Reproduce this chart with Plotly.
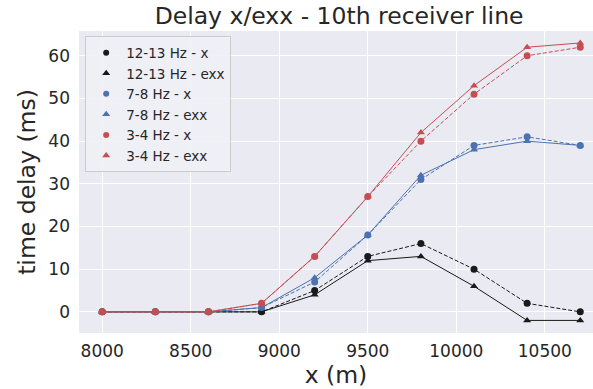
import plotly.graph_objects as go

# Receiver positions along the line (m)
offsets = [8000, 8300, 8600, 8900, 9200, 9500, 9800, 10100, 10400, 10700]

# Time delays (ms) for each frequency band and component
delay_12_13_x = [0, 0, 0, 0, 5, 13, 16, 10, 2, 0]
delay_12_13_exx = [0, 0, 0, 0, 4, 12, 13, 6, -2, -2]
delay_7_8_x = [0, 0, 0, 1, 7, 18, 31, 39, 41, 39]
delay_7_8_exx = [0, 0, 0, 1, 8, 18, 32, 38, 40, 39]
delay_3_4_x = [0, 0, 0, 2, 13, 27, 40, 51, 60, 62]
delay_3_4_exx = [0, 0, 0, 2, 13, 27, 42, 53, 62, 63]

x_ticks = [8000, 8500, 9000, 9500, 10000, 10500]
y_ticks = [0, 10, 20, 30, 40, 50, 60]

BLACK = "#1a1a1a"
BLUE = "#4C72B0"
RED = "#C44E52"

series = [
    ("12-13 Hz - x", delay_12_13_x, BLACK, "circle", "4px,2px"),
    ("12-13 Hz - exx", delay_12_13_exx, BLACK, "triangle-up", "solid"),
    ("7-8 Hz - x", delay_7_8_x, BLUE, "circle", "4px,2px"),
    ("7-8 Hz - exx", delay_7_8_exx, BLUE, "triangle-up", "solid"),
    ("3-4 Hz - x", delay_3_4_x, RED, "circle", "4px,2px"),
    ("3-4 Hz - exx", delay_3_4_exx, RED, "triangle-up", "solid"),
]

fig = go.Figure()

for name, vals, color, symbol, dash in series:
    fig.add_trace(go.Scatter(
        x=offsets, y=vals, mode="lines+markers", name=name,
        line=dict(color=color, width=1, dash=dash),
        marker=dict(color=color, symbol=symbol, size=7),
        showlegend=False,
    ))

# Marker-only legend entries
for name, vals, color, symbol, dash in series:
    fig.add_trace(go.Scatter(
        x=[None], y=[None], mode="markers", name=name,
        marker=dict(color=color, symbol=symbol,
                    size=6 if symbol == "circle" else 7),
        showlegend=True,
    ))

FONT = "DejaVu Sans"
TXT = "#262626"

fig.update_layout(
    width=593, height=389,
    margin=dict(l=79, r=0, t=31, b=56),
    paper_bgcolor="white",
    plot_bgcolor="#EAEAF2",
    font=dict(family=FONT, color=TXT, size=17),
    title=dict(
        text="Delay x/exx - 10th receiver line",
        font=dict(family=FONT, size=23.5, color=TXT),
        x=0.506, xref="paper", xanchor="center",
        y=1 - 16 / 389, yref="container", yanchor="middle",
    ),
    legend=dict(
        x=0.012, y=0.982, xanchor="left", yanchor="top",
        bgcolor="rgba(240,240,246,0.9)",
        bordercolor="#cccccc", borderwidth=1,
        font=dict(family=FONT, size=13.5, color=TXT),
        itemsizing="trace",
        tracegroupgap=0,
    ),
    showlegend=True,
)

fig.update_xaxes(
    range=[7869, 10772],
    tickvals=x_ticks,
    ticktext=[str(v) for v in x_ticks],
    showgrid=True, gridcolor="white", gridwidth=1,
    zeroline=False, showline=False, ticks="",
    ticklabelstandoff=6,
    tickfont=dict(family=FONT, size=17, color=TXT),
    title=dict(text="x (m)", font=dict(family=FONT, size=23.5, color=TXT), standoff=5),
)
fig.update_yaxes(
    range=[-4.95, 65.8],
    tickvals=y_ticks,
    ticktext=[str(v) for v in y_ticks],
    showgrid=True, gridcolor="white", gridwidth=1,
    zeroline=False, showline=False, ticks="",
    ticklabelstandoff=8,
    tickfont=dict(family=FONT, size=17, color=TXT),
    title=dict(text="time delay (ms)", font=dict(family=FONT, size=23.5, color=TXT), standoff=6),
)

fig.write_html("out.html")
